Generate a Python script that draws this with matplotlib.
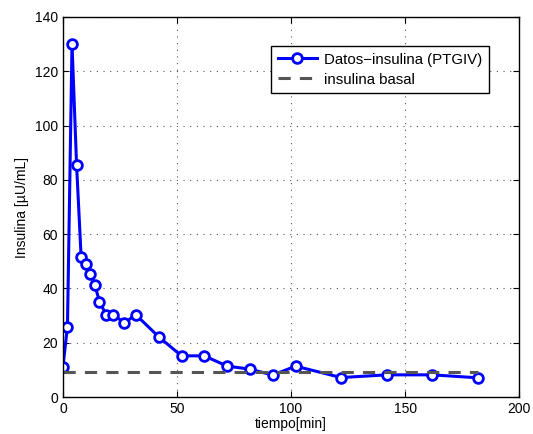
import numpy as np
import matplotlib
matplotlib.use('Agg')
import matplotlib.pyplot as plt

plt.rcParams['font.family'] = ['Liberation Sans', 'DejaVu Sans']

tiempo = [0, 2, 4, 6, 8, 10, 12, 14, 16, 19, 22, 27, 32, 42, 52, 62, 72, 82, 92, 102, 122, 142, 162, 182]
insulina = [11, 26, 130, 85.4, 51.5, 49, 45.3, 41.4, 35.2, 30.3, 30.3, 27.4, 30.3, 22.2, 15.2, 15.2,
            11.4, 10.3, 8.1, 11.4, 7.2, 8.2, 8.2, 7.1]
basal = 9.2

fig = plt.figure(figsize=(5.33, 4.34), dpi=100)
ax = fig.add_axes([0.118, 0.085, 0.856, 0.876])

ax.plot(tiempo, insulina, color='#0000ff', linewidth=2.2, marker='o', markersize=7,
        markerfacecolor='white', markeredgewidth=2, label='Datos\u2212insulina (PTGIV)')
ax.plot([tiempo[0], tiempo[-1]], [basal, basal], color='#555555', linestyle='--',
        linewidth=2.2, dashes=(4, 3), label='insulina basal')

ax.set_xlim(0, 200)
ax.set_ylim(0, 140)
ax.set_xticks(np.arange(0, 201, 50))
ax.set_yticks(np.arange(0, 141, 20))
ax.grid(True, linestyle=(0, (1, 5)), color='#555555', linewidth=0.8)
ax.tick_params(direction='in', top=True, right=True, labelsize=10, length=4)
for s in ax.spines.values():
    s.set_linewidth(1.0)

ax.set_xlabel('tiempo[min]', fontsize=10, labelpad=1)
ax.set_ylabel('Insulina [\u00b5U/mL]', fontsize=10, labelpad=4)

leg = ax.legend(loc='upper right', bbox_to_anchor=(0.934, 0.924), fontsize=10.8, fancybox=False,
                edgecolor='black', framealpha=1, handlelength=2.6, handletextpad=0.5,
                borderpad=0.45, labelspacing=0.4, borderaxespad=0)
leg.get_frame().set_linewidth(1.0)

fig.savefig('out.png', dpi=100)
